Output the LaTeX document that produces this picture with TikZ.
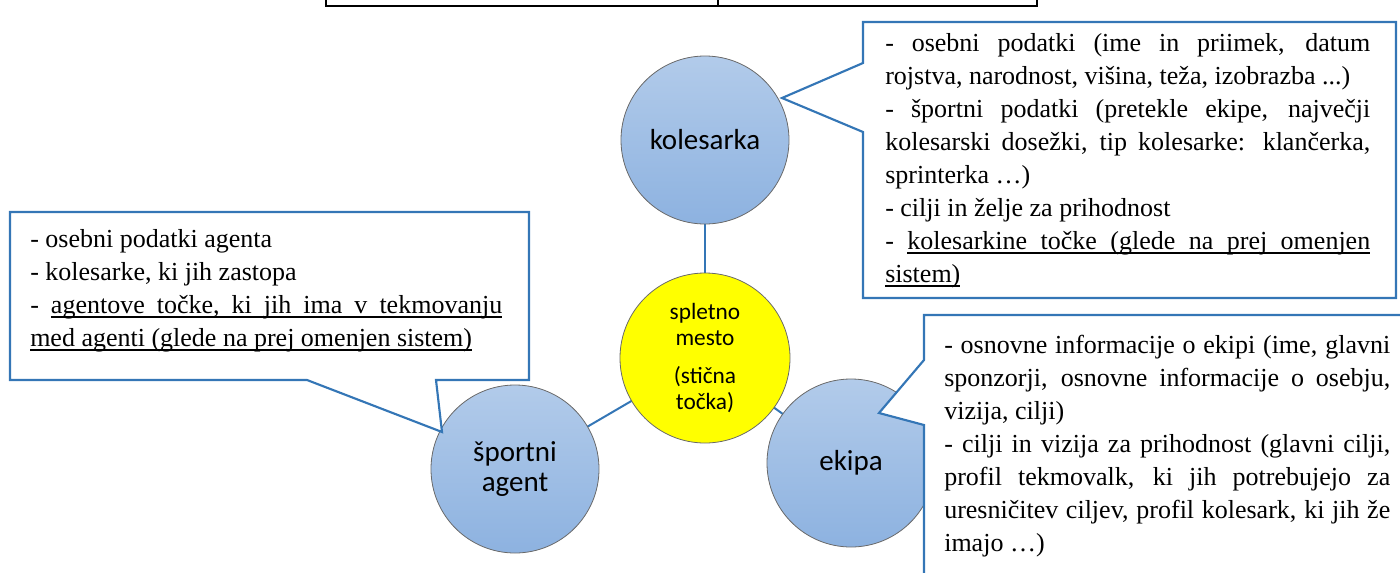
\documentclass[tikz,border=0pt]{standalone}
\usepackage{fontspec}
\setmainfont{Liberation Serif}
\newfontfamily\calib{Carlito}
\usetikzlibrary{backgrounds}
\newcommand\ulw[1]{\setbox0\hbox{#1}\rlap{\copy0}\rule[-3.2pt]{\wd0}{0.9pt}}
\newcommand\uls{\leaders\hrule height -2.3pt depth 3.2pt\hskip\fontdimen2\font plus\fontdimen3\font minus\fontdimen4\font\relax}
\hyphenpenalty=10000
\exhyphenpenalty=10000
\tolerance=10000
\definecolor{cblue}{RGB}{52,118,182}
\definecolor{bctop}{RGB}{178,203,234}
\definecolor{bcbot}{RGB}{141,178,224}
\definecolor{cgray}{RGB}{105,105,105}
\definecolor{cyel}{RGB}{255,255,0}
\begin{document}
\begin{tikzpicture}[x=0.75pt,y=-0.75pt,
  bluecirc/.style={circle, draw=cgray, line width=0.6pt, top color=bctop, bottom color=bcbot,
    minimum size=126pt, inner sep=0pt, align=center,
    font=\calib\fontsize{21.75}{22.5}\selectfont},
  yelcirc/.style={circle, draw=cgray, line width=0.6pt, fill=cyel,
    minimum size=127.5pt, inner sep=0pt, align=center,
    font=\calib\fontsize{17.5}{19.5}\selectfont},
  conn/.style={draw=cblue, line width=1.5pt},
  callout/.style={draw=cblue, line width=1.6pt, fill=white, line join=miter},
  boxtxt/.style={inner sep=0pt, anchor=north west, align=justify,
    font=\fontsize{19.5}{24.75}\selectfont}
]
\useasboundingbox (0,0) rectangle (1400,572);
\clip (0,0) rectangle (1400,572);

% table remnant at top
\draw[line width=1.5pt] (326,-5) -- (326,6) -- (1037,6) -- (1037,-5);
\draw[line width=0.8pt] (718,-5) -- (718,6);

% circles
\node[bluecirc] (kol) at (705,140) {kolesarka};
\node[yelcirc] (web) at (705,358) {spletno\\mesto\\[9pt](stična\\točka)};
\node[bluecirc] (agt) at (515,469) {športni\\agent};
\node[bluecirc] (eki) at (851,463) {ekipa};

\begin{pgfonlayer}{background}
\draw[conn] (kol.center) -- (web.center);
\draw[conn] (web.center) -- (agt.center);
\draw[conn] (web.center) -- (eki.center);
\end{pgfonlayer}

% callouts
\draw[callout] (863,22) -- (1396,22) -- (1396,298) -- (863,298) -- (863,132) -- (782,98) -- (863,63) -- cycle;
\draw[callout] (10,212) -- (529,212) -- (529,380) -- (436,380) -- (442,432) -- (307,380) -- (10,380) -- cycle;
\draw[callout] (924,315) -- (1420,315) -- (1420,590) -- (924,590) -- (924,425) -- (879,413) -- (924,360) -- cycle;

% texts
\node[boxtxt, text width=363.75pt] (ktxt) at (885,33) {%
- osebni podatki (ime in priimek, datum\linebreak rojstva, narodnost, višina, teža, izobrazba ...)\par
- športni podatki (pretekle ekipe, največji\linebreak kolesarski dosežki, tip kolesarke: klančerka,\linebreak sprinterka …)\par
- cilji in želje za prihodnost\par
- \ulw{kolesarkine}\uls\ulw{točke}\uls\ulw{(glede}\uls\ulw{na}\uls\ulw{prej}\uls\ulw{omenjen}\linebreak \ulw{sistem)}};

\node[boxtxt, text width=354pt] (atxt) at (30,229) {%
- osebni podatki agenta\par
- kolesarke, ki jih zastopa\par
- \ulw{agentove}\uls\ulw{točke,}\uls\ulw{ki}\uls\ulw{jih}\uls\ulw{ima}\uls\ulw{v}\uls\ulw{tekmovanju}\linebreak \ulw{med}\uls\ulw{agenti}\uls\ulw{(glede}\uls\ulw{na}\uls\ulw{prej}\uls\ulw{omenjen}\uls\ulw{sistem)}};

\node[boxtxt, text width=334.5pt] (etxt) at (944,335) {%
- osnovne informacije o ekipi (ime, glavni\linebreak sponzorji, osnovne informacije o osebju,\linebreak vizija, cilji)\par
- cilji in vizija za prihodnost (glavni cilji,\linebreak profil tekmovalk, ki jih potrebujejo za\linebreak uresničitev ciljev, profil kolesark, ki jih že\linebreak imajo …)};
\end{tikzpicture}
\end{document}
